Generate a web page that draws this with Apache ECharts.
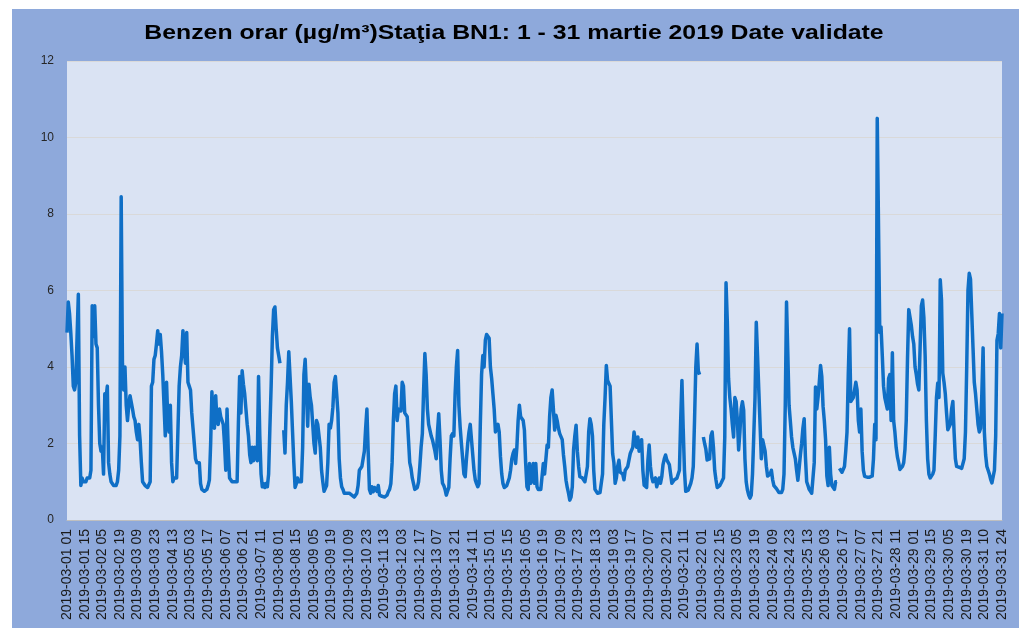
<!DOCTYPE html>
<html>
<head>
<meta charset="utf-8">
<script src="https://cdn.jsdelivr.net/npm/echarts@6/dist/echarts.min.js"></script>
<style>
  html, body { margin: 0; padding: 0; background: #ffffff; }
  #chart { position: absolute; left: 12px; top: 9px; width: 1007px; height: 619px; }
</style>
</head>
<body>
<div id="chart"></div>
<script>
// ore 01..24 pentru 1-31 martie 2019 (31 martie 04 lipseste - trecere la ora de vara)
const hours = [];
for (let d = 1; d <= 31; d++) {
    for (let h = 1; h <= 24; h++) {
        if (d === 31 && h === 4) continue;
        hours.push('2019-03-' + String(d).padStart(2, '0') + ' ' + String(h).padStart(2, '0'));
    }
}

// benzen, valori orare (µg/m³), un rand pe zi; null = lipsa date
const benzenDays = [
    [4.9, 5.7, 5.4, 4.9, 4.3, 3.5, 3.4, 3.6, 4.8, 5.9, 2.2, 0.9, 1.1, 1.0, 1.05, 1.0, 1.1, 1.05, 1.1, 1.3, 5.6, 4.8, 5.6, 4.6],
    [4.5, 3.0, 2.0, 1.8, 1.9, 1.2, 3.3, 3.2, 3.5, 1.5, 1.2, 1.0, 0.95, 0.9, 0.85, 0.9, 1.0, 1.3, 2.2, 8.45, 4.1, 3.4, 4.0, 3.0],
    [2.6, 3.0, 3.25, 3.2, 2.9, 2.7, 2.6, 2.3, 2.1, 2.5, 2.1, 1.5, 1.0, 0.95, 0.9, 0.85, 0.85, 0.85, 1.0, 3.5, 3.6, 4.2, 4.3, 4.6],
    [4.95, 4.6, 4.85, 4.4, 3.8, 3.0, 2.2, 3.6, 2.6, 2.3, 3.0, 1.5, 1.0, 1.1, 1.05, 1.1, 1.15, 3.5, 4.0, 4.3, 4.95, 4.5, 4.1, 4.9],
    [3.6, 3.5, 3.4, 2.8, 2.4, 2.0, 1.6, 1.5, 1.5, 1.5, 0.95, 0.8, 0.75, 0.75, 0.75, 0.8, 0.9, 1.05, 2.0, 3.35, 2.5, 2.4, 3.25, 2.6],
    [2.5, 2.9, 2.7, 2.7, 2.5, 2.0, 1.3, 2.9, 1.8, 1.1, 1.05, 1.0, 1.0, 1.0, 0.95, 1.0, 2.5, 3.75, 2.8, 3.9, 3.55, 3.3, 2.9, 2.5],
    [2.2, 1.7, 1.5, 1.9, 1.55, 1.9, 1.7, 1.55, 3.75, 2.2, 1.2, 0.87, 0.95, 0.85, 0.95, 0.87, 1.2, 2.4, 3.5, 4.8, 5.5, 5.57, 5.0, 4.5],
    [4.3, 4.1, null, null, 2.35, 1.75, 3.0, 3.6, 4.4, 4.35, 3.1, 2.3, 1.5, 0.85, 0.95, 1.1, 1.0, 1.05, 1.0, 1.9, 3.8, 4.2, 3.4, 2.45],
    [3.55, 3.2, 3.0, 2.5, 2.0, 1.75, 2.6, 2.5, 2.45, 1.9, 1.3, 1.0, 0.75, 0.8, 0.9, 1.5, 2.5, 2.4, 2.6, 2.95, 3.6, 3.75, 3.3, 2.8],
    [1.6, 1.1, 0.87, 0.8, 0.7, 0.75, 0.7, 0.75, 0.7, 0.7, 0.65, 0.65, 0.6, 0.65, 0.7, 0.9, 1.3, 1.3, 1.4, 1.6, 1.8, 2.4, 2.9, 1.8],
    [0.8, 0.7, 0.87, 0.74, 0.85, 0.8, 0.75, 0.9, 0.65, 0.6, 0.62, 0.6, 0.6, 0.57, 0.65, 0.74, 0.8, 0.95, 1.5, 2.6, 3.3, 3.5, 2.6, 2.9],
    [2.9, 2.85, 3.6, 3.5, 2.8, 2.8, 2.7, 2.1, 1.5, 1.35, 1.1, 0.95, 0.8, 0.78, 0.85, 1.0, 1.4, 1.9, 2.26, 3.4, 4.35, 3.8, 2.9, 2.5],
    [2.45, 2.2, 2.1, 2.1, 1.8, 1.6, 2.3, 2.78, 2.1, 1.3, 0.96, 0.9, 0.8, 0.65, 0.75, 0.85, 1.6, 2.2, 2.26, 2.2, 3.3, 4.0, 4.43, 3.0],
    [2.43, 2.0, 1.6, 1.2, 1.13, 1.6, 2.0, 2.3, 2.5, 2.1, 1.7, 1.3, 1.05, 0.95, 0.87, 0.95, 2.5, 3.8, 4.3, 4.0, 4.7, 4.85, 4.9, 4.75],
    [4.0, 3.7, 3.3, 2.9, 2.3, 2.3, 2.5, 2.3, 1.65, 1.2, 0.95, 0.85, 0.83, 0.9, 0.9, 1.1, 1.3, 1.6, 1.74, 1.83, 1.48, 1.9, 2.6, 3.0],
    [2.7, 2.75, 2.6, 2.35, 1.48, 0.87, 0.8, 1.48, 0.96, 1.1, 1.48, 0.96, 1.48, 0.87, 0.8, 0.78, 0.8, 0.82, 1.48, 1.2, 1.2, 1.96, 1.9, 2.7],
    [3.2, 3.4, 2.9, 2.35, 2.74, 2.6, 2.4, 2.26, 2.3, 2.1, 1.7, 1.4, 1.04, 0.85, 0.7, 0.52, 0.6, 0.87, 1.83, 2.2, 2.48, 1.8, 1.4, 1.13],
    [1.1, 1.1, 1.05, 1.0, 0.96, 1.4, 2.3, 2.65, 2.5, 2.2, 1.3, 0.8, 0.75, 0.7, 0.7, 0.72, 0.75, 1.2, 2.5, 3.2, 4.04, 3.65, 3.6, 3.5],
    [3.48, 1.74, 1.5, 0.96, 1.1, 1.4, 1.56, 1.25, 1.3, 1.2, 1.05, 1.3, 1.35, 1.4, 1.4, 1.74, 1.7, 1.9, 2.3, 2.1, 1.9, 2.17, 1.8, 1.8],
    [2.1, 1.3, 0.91, 0.87, 0.85, 1.56, 1.96, 1.4, 1.13, 1.0, 1.05, 1.1, 0.87, 1.0, 1.1, 0.96, 1.13, 1.45, 1.6, 1.7, 1.57, 1.55, 1.45, 1.2],
    [0.96, 1.0, 1.05, 1.09, 1.09, 1.1, 1.3, 2.6, 3.65, 2.4, 1.3, 0.75, 0.72, 0.78, 0.8, 0.96, 1.1, 1.4, 2.6, 4.0, 4.6, 3.9, 3.8, null],
    [null, 2.17, 2.0, 1.85, 1.57, 1.57, 1.6, 2.2, 2.3, 1.9, 1.3, 1.05, 0.85, 0.85, 0.9, 0.96, 0.96, 1.1, 2.17, 6.2, 5.2, 3.7, 3.2, 2.9],
    [2.5, 2.17, 3.2, 3.1, 2.6, 1.83, 2.3, 2.9, 3.09, 2.87, 1.6, 1.0, 0.78, 0.65, 0.57, 0.65, 1.2, 2.2, 3.2, 5.17, 4.3, 3.4, 2.5, 1.6],
    [2.1, 2.1, 1.8, 1.4, 1.15, 1.1, 1.2, 1.3, 1.05, 0.9, 0.87, 0.82, 0.78, 0.72, 0.7, 0.72, 0.8, 1.2, 3.0, 5.7, 4.4, 3.0, 2.6, 2.17],
    [1.9, 1.75, 1.6, 1.3, 1.04, 1.35, 1.7, 2.0, 2.4, 2.65, 1.65, 1.0, 0.9, 0.8, 0.75, 0.7, 0.75, 1.5, 3.48, 2.9, 3.2, 3.6, 4.04, 3.75],
    [2.97, 2.6, 2.1, 1.15, 0.9, 1.9, 1.2, 0.9, 0.85, 0.8, 1.0, 1.0, null, 1.35, 1.3, 1.25, 1.3, 1.4, 1.8, 2.3, 3.8, 5.0, 3.1, 3.1],
    [3.2, 3.4, 3.6, 3.4, 2.6, 2.3, 2.9, 1.8, 1.3, 1.14, 1.12, 1.12, 1.12, 1.12, 1.14, 1.15, 1.6, 2.5, 2.1, 10.5, 10.5, 4.9, 5.05, 4.3],
    [3.5, 3.2, 3.05, 2.9, 3.7, 3.8, 2.6, 4.37, 2.6, 2.3, 1.9, 1.65, 1.5, 1.32, 1.35, 1.4, 1.5, 1.85, 2.6, 4.2, 5.5, 5.55, 5.1, 4.8],
    [4.6, 4.0, 3.8, 3.55, 3.4, 4.5, 5.6, 5.75, 5.3, 4.3, 2.6, 1.6, 1.2, 1.1, 1.15, 1.2, 1.3, 2.2, 3.2, 3.58, 3.2, 6.28, 5.75, 3.84],
    [3.6, 3.3, 2.8, 2.36, 2.36, 2.5, 2.9, 3.1, 2.28, 1.6, 1.4, 1.38, 1.38, 1.35, 1.35, 1.4, 1.6, 2.3, 4.0, 6.0, 6.45, 6.3, 5.4, 4.5],
    [3.6, 3.3, 2.9, 2.5, 2.3, 2.4, 3.3, 4.5, 2.3, 1.7, 1.4, 1.3, 1.2, 1.06, 0.97, 1.0, 1.3, 2.2, 4.7, 4.87, 5.4, 4.5, 5.4]
];
const benzen = benzenDays.flat();

const yTicks = [0, 2, 4, 6, 8, 10, 12];
const titleText = 'Benzen orar (µg/m³)Staţia BN1: 1 - 31 martie 2019 Date validate';

const chart = echarts.init(document.getElementById('chart'));

const option = {
    backgroundColor: '#8EA9DB',
    animation: false,
    // titlul e putin latit in original, de aceea scaleX
    graphic: [
        {
            type: 'text',
            x: 502,
            y: 24,
            scaleX: 1.24,
            style: {
                text: titleText,
                align: 'center',
                verticalAlign: 'middle',
                font: 'bold 20px "Liberation Sans", Arial, sans-serif',
                fill: '#000000'
            }
        }
    ],
    grid: {
        left: 55,
        right: 17,
        top: 52,
        bottom: 108,
        show: true,
        backgroundColor: '#DAE3F3',
        borderWidth: 0
    },
    xAxis: {
        type: 'category',
        data: hours,
        boundaryGap: false,
        axisLine: { lineStyle: { color: '#BFBFBF', width: 1 } },
        axisTick: { show: false },
        axisLabel: {
            interval: 13,
            rotate: 90,
            margin: 9,
            fontSize: 14,
            color: '#1a1a1a',
            fontFamily: 'Liberation Sans, Arial, sans-serif'
        },
        splitLine: { show: false }
    },
    yAxis: {
        type: 'value',
        min: yTicks[0],
        max: yTicks[yTicks.length - 1],
        interval: 2,
        axisLine: { show: false },
        axisTick: { show: false },
        axisLabel: {
            margin: 13,
            fontSize: 12,
            color: '#262626',
            fontFamily: 'Liberation Sans, Arial, sans-serif'
        },
        splitLine: { lineStyle: { color: '#D9D9D9', width: 1 } }
    },
    series: [
        {
            name: 'Benzen',
            type: 'line',
            data: benzen,
            symbol: 'none',
            connectNulls: false,
            lineStyle: { color: '#0F6FC6', width: 3.5, join: 'round' }
        }
    ]
};

chart.setOption(option);
window.addEventListener('resize', () => chart.resize());
</script>
</body>
</html>
